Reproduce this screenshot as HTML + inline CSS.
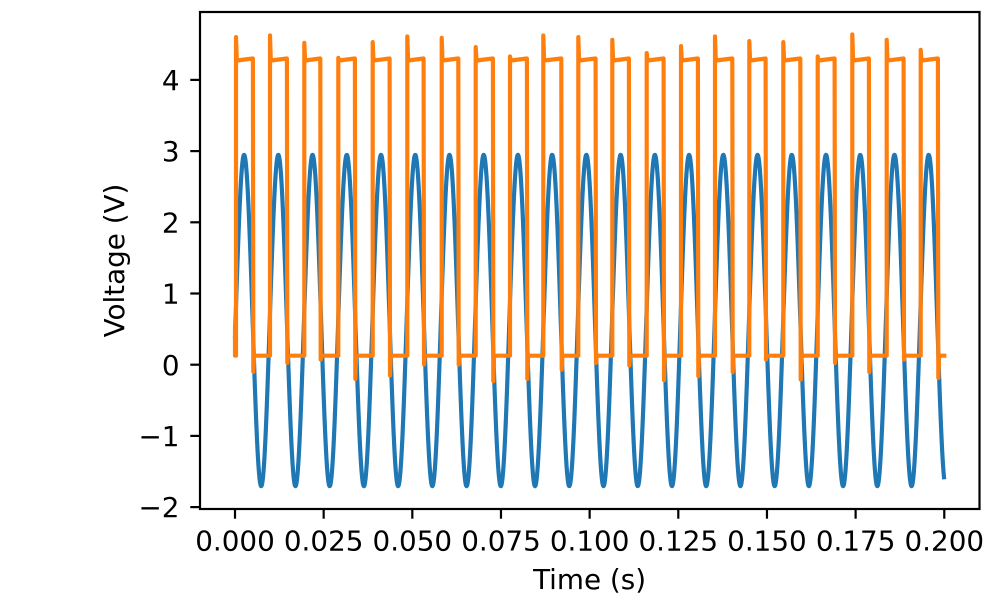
<!DOCTYPE html>
<html>
<head>
<meta charset="utf-8">
<style>
  html,body{margin:0;padding:0;background:#fff;}
  svg{display:block;}
  text{font-family:"DejaVu Sans","Liberation Sans",sans-serif;font-size:27.8px;fill:#000;}
</style>
</head>
<body>
<svg id="chart" width="1000" height="600" viewBox="0 0 1000 600" xmlns="http://www.w3.org/2000/svg">
  <rect x="0" y="0" width="1000" height="600" fill="#fff"/>
  <path id="blue" d="" fill="none" stroke="#1f77b4" stroke-width="4.17" stroke-linejoin="round" stroke-linecap="square"/>
  <path id="orange" d="" fill="none" stroke="#ff7f0e" stroke-width="4.17" stroke-linejoin="round" stroke-linecap="square"/>
  <!-- axes frame -->
  <rect x="200" y="12" width="779.5" height="497" fill="none" stroke="#000" stroke-width="2.2" stroke-linejoin="miter"/>
  <!-- x ticks -->
  <g stroke="#000" stroke-width="2.2">
    <line x1="235" y1="509" x2="235" y2="518.7"/>
    <line x1="323.66" y1="509" x2="323.66" y2="518.7"/>
    <line x1="412.32" y1="509" x2="412.32" y2="518.7"/>
    <line x1="500.98" y1="509" x2="500.98" y2="518.7"/>
    <line x1="589.64" y1="509" x2="589.64" y2="518.7"/>
    <line x1="678.3" y1="509" x2="678.3" y2="518.7"/>
    <line x1="766.96" y1="509" x2="766.96" y2="518.7"/>
    <line x1="855.62" y1="509" x2="855.62" y2="518.7"/>
    <line x1="944.28" y1="509" x2="944.28" y2="518.7"/>
  </g>
  <g text-anchor="middle">
    <text x="235" y="550.7">0.000</text>
    <text x="323.66" y="550.7">0.025</text>
    <text x="412.32" y="550.7">0.050</text>
    <text x="500.98" y="550.7">0.075</text>
    <text x="589.64" y="550.7">0.100</text>
    <text x="678.3" y="550.7">0.125</text>
    <text x="766.96" y="550.7">0.150</text>
    <text x="855.62" y="550.7">0.175</text>
    <text x="944.28" y="550.7">0.200</text>
  </g>
  <!-- y ticks -->
  <g stroke="#000" stroke-width="2.2">
    <line x1="190.3" y1="507.1" x2="200" y2="507.1"/>
    <line x1="190.3" y1="435.9" x2="200" y2="435.9"/>
    <line x1="190.3" y1="364.7" x2="200" y2="364.7"/>
    <line x1="190.3" y1="293.5" x2="200" y2="293.5"/>
    <line x1="190.3" y1="222.3" x2="200" y2="222.3"/>
    <line x1="190.3" y1="151.1" x2="200" y2="151.1"/>
    <line x1="190.3" y1="79.9" x2="200" y2="79.9"/>
  </g>
  <g text-anchor="end">
    <text x="179.5" y="517.2">−2</text>
    <text x="179.5" y="446">−1</text>
    <text x="179.5" y="374.8">0</text>
    <text x="179.5" y="303.6">1</text>
    <text x="179.5" y="232.4">2</text>
    <text x="179.5" y="161.2">3</text>
    <text x="179.5" y="90">4</text>
  </g>
  <text x="589.6" y="589" text-anchor="middle">Time (s)</text>
  <text transform="translate(124,260.5) rotate(-90)" x="0" y="0" text-anchor="middle">Voltage (V)</text>
</svg>
<script>
(function(){
  // Blue sine
  var d = "";
  var P = 34.23, xt = 261.2, yc = 320.5, A = 165.7;
  for (var x = 235; x <= 944.3001; x += 0.5) {
    var ph = 1.5*Math.PI + 2*Math.PI*(x - xt)/P;
    var y = yc - A*Math.sin(ph);
    d += (d ? " L" : "M") + x.toFixed(2) + "," + y.toFixed(2);
  }
  document.getElementById("blue").setAttribute("d", d);

  // Orange comparator output
  var rises=[236,270,304.3,338.3,372.7,407.3,441.7,475.7,510,543.3,578.3,612.3,646.7,681,715,749.3,783.3,817.7,852.3,886.7,920.7];
  var falls=[253.3,287.3,320.7,355.3,390,424,458.7,493.3,527.3,561.7,596,629.3,664,698.3,732.7,766,800.7,835,869.3,904,938.3];
  var tops=[35,33.3,40.7,55.7,40,34.3,35.7,45,54.3,33.3,35,37.7,51,44,34.3,39,40,54.3,32.3,37.7,47.7];
  var bots=[374,365,361.7,381,377.7,366.7,366.7,383.3,381,371.7,365,367.7,382.3,378.3,374.3,361.7,381.7,365,374.3,361.7,380];
  var low = 355.7;
  var o = "M235,329.1 L235," + low;
  for (var i = 0; i < rises.length; i++) {
    var r = rises[i], f = falls[i];
    o += " L" + r + "," + low;
    o += " L" + r + "," + (tops[i] + 2.1);
    o += " L" + (r + 0.8) + ",60.5";
    o += " L" + (f - 0.4) + ",58.5";
    o += " L" + f + "," + (bots[i] - 2.1);
    o += " L" + (f + 0.8) + "," + low;
  }
  o += " L944.3," + low;
  document.getElementById("orange").setAttribute("d", o);
})();
</script>
</body>
</html>
